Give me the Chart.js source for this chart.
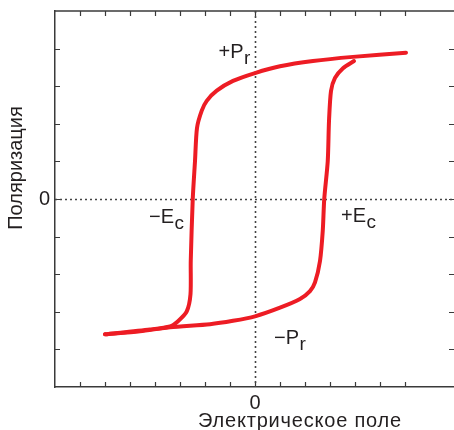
<!DOCTYPE html>
<html>
<head>
<meta charset="utf-8">
<script src="https://cdn.jsdelivr.net/npm/chart.js@4/dist/chart.umd.min.js"></script>
<style>
  html, body { margin: 0; padding: 0; background: #fff; }
</style>
</head>
<body>
<canvas id="chart" width="454" height="430"></canvas>
<script>
// upper branch: field goes down from +max to -max
const upperX = [6.04, 3.92, 2.32, 1.0, 0, -0.88, -1.53, -1.93, -2.13, -2.32, -2.4, -2.49, -2.57, -2.58, -2.73, -3.08, -3.4, -4.2, -6.0];
const upperY = [3.89, 3.78, 3.67, 3.53, 3.35, 3.14, 2.88, 2.61, 2.35, 1.89, 1.01, 0, -1.65, -2.53, -2.99, -3.25, -3.39, -3.47, -3.6];
// lower branch: field goes up from -max
const lowerX = [-6.0, -4.6, -3.4, -1.8, -0.88, 0, 1.0, 1.8, 2.2, 2.4, 2.6, 2.71, 2.77, 2.91, 2.96, 3.04, 3.2, 3.52, 3.96];
const lowerY = [-3.6, -3.52, -3.41, -3.33, -3.24, -3.12, -2.89, -2.66, -2.45, -2.22, -1.65, -0.85, 0, 1.01, 2.07, 2.87, 3.22, 3.48, 3.67];

// labels on the loop: text, subscript, x, y (baseline)
const markText = ["+P", "\u2212E", "+E", "\u2212P"];
const markSub = ["r", "c", "c", "r"];
const markX = [-1.46, -4.24, 3.44, 0.76];
const markY = [3.75, -0.64, -0.61, -3.86];

const xTitle = "Электрическое поле";
const yTitle = "Поляризация";

const red = "#ed1c24";
const ink = "#231f20";
const font = "'Liberation Sans', Arial, sans-serif";

const toPoints = (xs, ys) => xs.map((v, i) => ({ x: v, y: ys[i] }));

// frame, inner ticks and the dotted zero lines
const framePlugin = {
  id: "frame",
  beforeDatasetsDraw(chart) {
    const { ctx, chartArea: a, scales } = chart;
    const sx = scales.x, sy = scales.y;
    ctx.save();
    ctx.strokeStyle = "#3a3a3a";
    ctx.lineWidth = 1.5;
    ctx.beginPath();
    ctx.moveTo(a.left, a.top);
    ctx.lineTo(a.right, a.top);
    ctx.stroke();
    ctx.lineWidth = 1.2;
    ctx.beginPath();
    sx.ticks.forEach((t) => {
      if (!Number.isInteger(t.value) || t.value <= sx.min) return;
      const px = Math.round(sx.getPixelForValue(t.value)) + 0.5;
      ctx.moveTo(px, a.bottom);
      ctx.lineTo(px, a.bottom - 5);
      ctx.moveTo(px, a.top);
      ctx.lineTo(px, a.top + 5);
    });
    sy.ticks.forEach((t) => {
      if (t.value <= sy.min || t.value >= sy.max) return;
      const py = Math.round(sy.getPixelForValue(t.value)) + 0.5;
      ctx.moveTo(a.left, py);
      ctx.lineTo(a.left + 5, py);
      ctx.moveTo(a.right, py);
      ctx.lineTo(a.right - 5, py);
    });
    ctx.stroke();

    // dotted zero lines
    ctx.strokeStyle = "#444";
    ctx.lineWidth = 1.6;
    ctx.setLineDash([2, 3]);
    const x0 = Math.round(sx.getPixelForValue(0)) + 0.5;
    const y0 = Math.round(sy.getPixelForValue(0)) + 0.5;
    ctx.beginPath();
    ctx.moveTo(x0, a.top);
    ctx.lineTo(x0, a.bottom);
    ctx.moveTo(a.left, y0);
    ctx.lineTo(a.right, y0);
    ctx.stroke();
    ctx.restore();
  },
  afterDraw(chart) {
    const { ctx, scales } = chart;
    ctx.save();
    ctx.fillStyle = ink;
    ctx.textBaseline = "alphabetic";
    ctx.textAlign = "left";
    markText.forEach((txt, i) => {
      const px = scales.x.getPixelForValue(markX[i]);
      const py = scales.y.getPixelForValue(markY[i]);
      ctx.font = "20px " + font;
      ctx.fillText(txt, px, py);
      const w = ctx.measureText(txt).width;
      ctx.font = "19px " + font;
      ctx.fillText(markSub[i], px + w + 0.5, py + 6);
    });

    // axis titles
    ctx.font = "20px " + font;
    ctx.textAlign = "center";
    ctx.letterSpacing = "0.8px";
    ctx.fillText(xTitle, 300, 427);
    ctx.letterSpacing = "0px";
    ctx.translate(22, 168);
    ctx.rotate(-Math.PI / 2);
    ctx.fillText(yTitle, 0, 0);
    ctx.restore();
  }
};

new Chart(document.getElementById("chart"), {
  type: "scatter",
  plugins: [framePlugin],
  data: {
    datasets: [
      {
        data: toPoints(upperX, upperY),
        showLine: true,
        borderColor: red,
        borderWidth: 4,
        tension: 0.25,
        pointRadius: 0,
        borderCapStyle: "round",
        borderJoinStyle: "round"
      },
      {
        data: toPoints(lowerX, lowerY),
        showLine: true,
        borderColor: red,
        borderWidth: 4,
        tension: 0.25,
        pointRadius: 0,
        borderCapStyle: "round",
        borderJoinStyle: "round"
      }
    ]
  },
  options: {
    responsive: false,
    animation: false,
    layout: { padding: { top: 11, right: 0, left: 0, bottom: 0 } },
    plugins: {
      legend: { display: false },
      tooltip: { enabled: false }
    },
    scales: {
      x: {
        type: "linear",
        min: -8,
        max: 7.96,
        afterFit: (scale) => {
          scale.height = 43;
          scale.paddingLeft = 0;
          scale.paddingRight = 0;
        },
        border: { display: true, color: "#3a3a3a", width: 1.5 },
        grid: { drawOnChartArea: false, drawTicks: false },
        ticks: {
          stepSize: 1,
          autoSkip: false,
          maxRotation: 0,
          padding: 4,
          color: ink,
          font: { family: font, size: 20 },
          callback: (v) => (v === 0 ? "0" : "")
        }
      },
      y: {
        type: "linear",
        min: -5,
        max: 5,
        afterFit: (scale) => {
          scale.width = 55;
          scale.paddingTop = 0;
          scale.paddingBottom = 0;
        },
        border: { display: true, color: "#3a3a3a", width: 1.5 },
        grid: { drawOnChartArea: false, drawTicks: false },
        ticks: {
          stepSize: 1,
          autoSkip: false,
          padding: 5,
          color: ink,
          font: { family: font, size: 20 },
          callback: (v) => (v === 0 ? "0" : "")
        }
      }
    }
  }
});
</script>
</body>
</html>
